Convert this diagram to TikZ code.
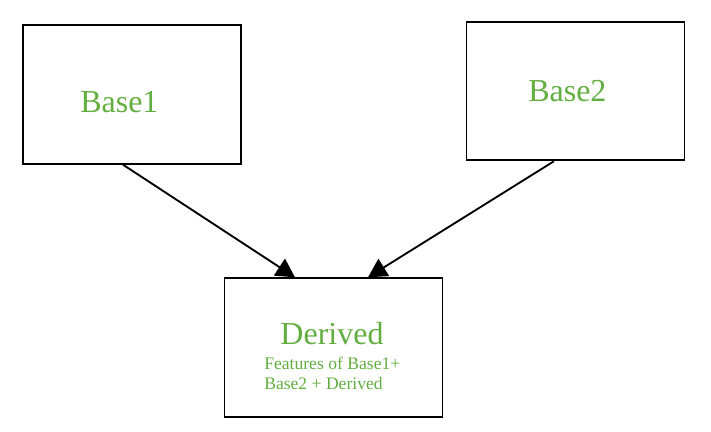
\documentclass[tikz,border=0pt]{standalone}
\usepackage{fontspec}
\setmainfont{Liberation Serif}
\usetikzlibrary{arrows.meta,calc}
\definecolor{labelgreen}{RGB}{98,174,64}

\begin{document}
\begin{tikzpicture}[x=0.75pt,y=-0.75pt]
\tikzstyle{box}=[draw, line width=1.3pt, inner sep=0pt, minimum width=163.5pt, minimum height=104pt]
\tikzstyle{bigtext}=[text=labelgreen, font=\fontsize{24}{28}\selectfont, inner sep=0pt]
\tikzstyle{smalltext}=[text=labelgreen, font=\fontsize{13.2}{15}\selectfont, inner sep=0pt, anchor=base west]
\tikzstyle{arrow}=[line width=1.4pt, -{Triangle[length=14pt,width=15pt]}]
\useasboundingbox (0,0) rectangle (711,432);
\node[box] (b1) at (132,94.5) {};
\node[box] (b2) at (575.5,91) {};
\node[box] (d) at (333.5,347.5) {};
\node[bigtext, anchor=base west] (t1) at (80,112) {Base1};
\node[bigtext, anchor=base west] (t2) at (528,101) {Base2};
\node[bigtext, anchor=base] (t3) at (332,344) {Derived};
\node[smalltext] (f1) at (264,369) {Features of Base1+};
\node[smalltext] (f2) at (264,389) {Base2 + Derived};
\draw[arrow] ($(b1.south)+(-9,0)$) to ($(d.north)+(-38.5,0)$);
\draw[arrow] ($(b2.south)+(-21.5,0)$) to ($(d.north)+(34.5,0)$);
\end{tikzpicture}
\end{document}
